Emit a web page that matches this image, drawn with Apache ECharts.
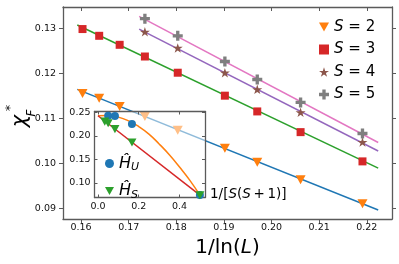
<!DOCTYPE html>
<html>
<head>
<meta charset="utf-8">
<script src="https://cdn.jsdelivr.net/npm/echarts@6/dist/echarts.min.js"></script>
<style>html,body{margin:0;padding:0;background:#fff}#c{width:399px;height:264px}</style>
</head>
<body>
<div id="c"></div>
<script>
// ---- main panel data: x = 1/ln(L) ----
const invLnL = [0.1603, 0.1638, 0.1681, 0.1734, 0.1803, 0.1902, 0.1970, 0.2061, 0.2191];
const chiS2 = [0.1155, 0.1144, 0.1126, 0.1104, 0.1073, 0.1033, 0.1002, 0.0963, 0.0910];
const chiS3 = [0.1298, 0.1283, 0.1263, 0.1237, 0.1201, 0.1150, 0.1115, 0.1069, 0.1004];
const chiS4 = [null, null, null, 0.1292, 0.1256, 0.1201, 0.1164, 0.1113, 0.1047];
const chiS5 = [null, null, null, 0.1321, 0.1283, 0.1226, 0.1186, 0.1135, 0.1066];
// fitted lines (end points)
const fitX23 = [0.1592, 0.2224];
const fitS2 = [0.1164, 0.0896];
const fitS3 = [0.1307, 0.0989];
const fitX45 = [0.1722, 0.2224];
const fitS4 = [0.1298, 0.1027];
const fitS5 = [0.1326, 0.1046];
const mainXTicks = [0.16, 0.17, 0.18, 0.19, 0.20, 0.21, 0.22];
const mainYTicks = [0.09, 0.10, 0.11, 0.12, 0.13];
// ---- inset data: x = 1/[S(S+1)] ----
const insetXU = [0.05, 0.0833, 0.1667, 0.5];
const insetHU = [0.2432, 0.2425, 0.2256, 0.0742];
const insetXS = [0.0333, 0.05, 0.0833, 0.1667, 0.5];
const insetHS = [0.2305, 0.2271, 0.2144, 0.1860, 0.0737];
const curveX = [0, 0.05, 0.1, 0.15, 0.2, 0.25, 0.3, 0.35, 0.4, 0.45, 0.5];
const curveU = [0.243, 0.2435, 0.240, 0.232, 0.220, 0.204, 0.183, 0.160, 0.134, 0.106, 0.074];
const lineSX = [0, 0.5];
const lineS = [0.243, 0.074];
const insetXTicks = [0.0, 0.2, 0.4];
const insetYTicks = [0.10, 0.15, 0.20, 0.25];

const C = {blue:'#1f77b4', orange:'#ff7f0e', green:'#2ca02c', red:'#d62728', purple:'#9467bd', brown:'#8c564b', pink:'#e377c2', gray:'#7f7f7f'};
const FONT = 'DejaVu Sans';
const FRAME = '#5a5a5a';
const STAR = 'path://M100,0 L122.45,69.1 L195.11,69.1 L136.33,111.8 L158.78,180.9 L100,138.2 L41.22,180.9 L63.67,111.8 L4.89,69.1 L77.55,69.1 Z';
const PLUS = 'path://M3,0 H6 V3 H9 V6 H6 V9 H3 V6 H0 V3 H3 Z';
const TRI_DOWN = 'path://M0,0 L10,0 L5,9 Z';

function pairs(xs, ys){ const out=[]; for(let i=0;i<xs.length;i++){ if(ys[i]!==null) out.push([xs[i], ys[i]]);} return out; }

const chart = echarts.init(document.getElementById('c'), null, {renderer:'canvas'});

function axisCommon(extra){
  return Object.assign({
    type:'value', scale:true,
    splitLine:{show:false},
    axisLine:{show:true, onZero:false, lineStyle:{color:FRAME, width:1.3}},
  }, extra);
}
const lblStyle = {color:'#111', fontSize:9.5, fontFamily:FONT};

const option = {
  animation:false,
  backgroundColor:'#fff',
  grid:[
    {left:63, right:7, top:7, bottom:45, containLabel:false},
    {left:94.5, top:111.5, width:110.5, height:86, show:true, backgroundColor:'rgba(255,255,255,0.5)', borderWidth:0, z:3}
  ],
  xAxis:[
    axisCommon({gridIndex:0, position:'bottom', min:0.1562, max:0.2253,
      axisTick:{show:true, inside:false, length:4, customValues:mainXTicks, lineStyle:{color:FRAME}},
      axisLabel:{show:true, customValues:mainXTicks, margin:4, formatter:v=>v.toFixed(2), ...lblStyle},
      name:'1/ln({i|L})', nameLocation:'middle', nameGap:14,
      nameTextStyle:{fontSize:20, fontFamily:FONT, color:'#000', lineHeight:20, rich:{i:{fontSize:20, fontStyle:'italic', fontFamily:FONT, color:'#000'}}}
    }),
    axisCommon({gridIndex:0, position:'top', min:0.1562, max:0.2253,
      axisTick:{show:true, inside:true, length:4, customValues:mainXTicks, lineStyle:{color:FRAME}},
      axisLabel:{show:false}}),
    axisCommon({gridIndex:1, position:'bottom', min:-0.017, max:0.525, z:4,
      axisTick:{show:true, inside:true, length:3, customValues:insetXTicks, lineStyle:{color:FRAME}},
      axisLabel:{show:true, customValues:insetXTicks, margin:4, formatter:v=>v.toFixed(1), ...lblStyle},
      name:'1/[{i|S}({i|S}\u2009+\u20091)]', nameLocation:'end', nameGap:5,
      nameTextStyle:{fontSize:13.5, fontFamily:FONT, color:'#000', verticalAlign:'middle', padding:[0,0,6,0], rich:{i:{fontSize:13.5, fontStyle:'italic', fontFamily:FONT, color:'#000'}}}
    }),
    axisCommon({gridIndex:1, position:'top', min:-0.017, max:0.525, z:4,
      axisTick:{show:true, inside:true, length:3, customValues:insetXTicks, lineStyle:{color:FRAME}},
      axisLabel:{show:false}})
  ],
  yAxis:[
    axisCommon({gridIndex:0, position:'left', min:0.0876, max:0.1347,
      axisTick:{show:true, inside:false, length:4, customValues:mainYTicks, lineStyle:{color:FRAME}},
      axisLabel:{show:true, customValues:mainYTicks, margin:7, formatter:v=>v.toFixed(2), ...lblStyle}}),
    axisCommon({gridIndex:0, position:'right', min:0.0876, max:0.1347,
      axisTick:{show:true, inside:false, length:4, customValues:mainYTicks, lineStyle:{color:FRAME}},
      axisLabel:{show:false}}),
    axisCommon({gridIndex:1, position:'left', min:0.069, max:0.252, z:4,
      axisTick:{show:true, inside:true, length:3, customValues:insetYTicks, lineStyle:{color:FRAME}},
      axisLabel:{show:true, customValues:insetYTicks, margin:4, formatter:v=>v.toFixed(2), ...lblStyle}}),
    axisCommon({gridIndex:1, position:'right', min:0.069, max:0.252, z:4,
      axisTick:{show:true, inside:true, length:3, customValues:insetYTicks, lineStyle:{color:FRAME}},
      axisLabel:{show:false}})
  ],
  legend:[
    {data:['S2','S3','S4','S5'], orient:'vertical', left:319, top:19, padding:0, itemGap:6.5,
      itemWidth:10, itemHeight:10,
      formatter:n=>'{i|S} = '+n.slice(1),
      textStyle:{fontSize:15, fontFamily:FONT, color:'#000', lineHeight:16, rich:{i:{fontSize:15, fontStyle:'italic', fontFamily:FONT, color:'#000', lineHeight:16}}}},
    {data:['HU','HS'], orient:'vertical', left:105, top:154, padding:0, itemGap:8.5, z:6,
      itemWidth:9, itemHeight:9,
      formatter:n=>'{h|\u0124}{s|'+n.slice(1)+'}',
      textStyle:{fontSize:16, fontFamily:FONT, color:'#000', lineHeight:19,
        rich:{h:{fontSize:16, fontStyle:'italic', fontFamily:FONT, color:'#000', lineHeight:19},
              s:{fontSize:11, fontStyle:'italic', fontFamily:FONT, color:'#000', lineHeight:12, verticalAlign:'bottom'}}}}
  ],
  graphic:[
    {type:'group', x:21, y:121, rotation:Math.PI/2, children:[
      {type:'text', x:0, y:0, style:{text:'\u03c7', font:'italic 21px "DejaVu Sans"', fill:'#000', align:'center', verticalAlign:'middle'}},
      {type:'text', x:13, y:-10.5, style:{text:'*', font:'13px "DejaVu Sans"', fill:'#000', align:'center', verticalAlign:'middle'}},
      {type:'text', x:8, y:10.5, style:{text:'F', font:'italic 12px "DejaVu Sans"', fill:'#000', align:'center', verticalAlign:'middle'}}
    ]}
  ],
  series:[
    {type:'line', xAxisIndex:0, yAxisIndex:0, data:pairs(fitX23, fitS2), symbol:'none', lineStyle:{color:C.blue, width:1.5}, z:2},
    {type:'line', xAxisIndex:0, yAxisIndex:0, data:pairs(fitX23, fitS3), symbol:'none', lineStyle:{color:C.green, width:1.5}, z:2},
    {type:'line', xAxisIndex:0, yAxisIndex:0, data:pairs(fitX45, fitS4), symbol:'none', lineStyle:{color:C.purple, width:1.5}, z:2},
    {type:'line', xAxisIndex:0, yAxisIndex:0, data:pairs(fitX45, fitS5), symbol:'none', lineStyle:{color:C.pink, width:1.5}, z:2},
    {name:'S2', type:'scatter', xAxisIndex:0, yAxisIndex:0, data:pairs(invLnL, chiS2), symbol:TRI_DOWN, symbolKeepAspect:true, symbolSize:10, itemStyle:{color:C.orange, opacity:1}, z:2},
    {name:'S3', type:'scatter', xAxisIndex:0, yAxisIndex:0, data:pairs(invLnL, chiS3), symbol:'rect', symbolSize:8, itemStyle:{color:C.red, opacity:1}, z:2},
    {name:'S4', type:'scatter', xAxisIndex:0, yAxisIndex:0, data:pairs(invLnL, chiS4), symbol:STAR, symbolKeepAspect:true, symbolSize:10, itemStyle:{color:C.brown, opacity:1}, z:2},
    {name:'S5', type:'scatter', xAxisIndex:0, yAxisIndex:0, data:pairs(invLnL, chiS5), symbol:PLUS, symbolKeepAspect:true, symbolSize:10, itemStyle:{color:C.gray, opacity:1}, z:2},
    {type:'line', xAxisIndex:2, yAxisIndex:2, data:pairs(curveX, curveU), smooth:true, symbol:'none', lineStyle:{color:C.orange, width:1.5}, z:5},
    {type:'line', xAxisIndex:2, yAxisIndex:2, data:pairs(lineSX, lineS), symbol:'none', lineStyle:{color:C.red, width:1.5}, z:5},
    {name:'HU', type:'scatter', xAxisIndex:2, yAxisIndex:2, data:pairs(insetXU, insetHU), symbol:'circle', symbolSize:8, itemStyle:{color:C.blue, opacity:1}, z:5},
    {name:'HS', type:'scatter', xAxisIndex:2, yAxisIndex:2, data:pairs(insetXS, insetHS), symbol:TRI_DOWN, symbolKeepAspect:true, symbolSize:9, itemStyle:{color:C.green, opacity:1}, z:6}
  ]
};
chart.setOption(option);
</script>
</body>
</html>
